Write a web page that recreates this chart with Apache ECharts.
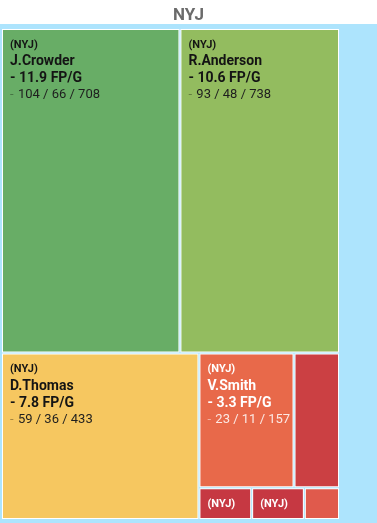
<!DOCTYPE html>
<html>
<head>
<meta charset="utf-8">
<script src="https://cdn.jsdelivr.net/npm/echarts@6/dist/echarts.min.js"></script>
<style>
html,body{margin:0;padding:0;background:#fff;}
#c{width:377px;height:523px;}
</style>
</head>
<body>
<div id="c"></div>
<script>
// Data
const team = 'NYJ';
const players = ['J.Crowder', 'R.Anderson', 'D.Thomas', 'V.Smith', '', '', '', ''];
const targets = [104, 93, 59, 23, 11, 3, 3, 2];
const receptions = [66, 48, 36, 11, null, null, null, null];
const yards = [708, 738, 433, 157, null, null, null, null];
const fpPerGame = [11.9, 10.6, 7.8, 3.3, null, null, null, null];
const tileColors = ['#68ad66', '#93bc5f', '#f6c760', '#e8694a', '#cb4043', '#c63842', '#c63842', '#e05a4c'];
const labelMode = ['full', 'full', 'full', 'full', 'none', 'team', 'team', 'none'];

const darkTiles = [false, false, false, true, true, true, true, true];

const data = players.map((p, i) => ({
  name: p,
  value: targets[i],
  idx: i,
  itemStyle: { color: tileColors[i] },
  label: { show: labelMode[i] !== 'none' }
}));

function rich(light) {
  const c = light ? '#ffffff' : '#141414';
  return {
    t: { fontSize: 11, fontWeight: 'bold', color: c, lineHeight: 16, fontFamily: 'Roboto' },
    n: { fontSize: 14, fontWeight: 'bold', color: c, lineHeight: 17, fontFamily: 'Roboto' },
    f: { fontSize: 14, fontWeight: 'bold', color: c, lineHeight: 17, fontFamily: 'Roboto' },
    d: { fontSize: 13, color: light ? 'rgba(255,255,255,0.5)' : 'rgba(0,0,0,0.35)', lineHeight: 16, fontFamily: 'Roboto', padding: [0, 1, 0, 0] },
    s: { fontSize: 13, color: light ? 'rgba(255,255,255,0.85)' : '#1e1e1e', lineHeight: 16, fontFamily: 'Roboto' }
  };
}

data.forEach((d, i) => {
  d.label.rich = rich(darkTiles[i]);
});

const chart = echarts.init(document.getElementById('c'), null, { renderer: 'canvas' });
chart.setOption({
  animation: false,
  title: {
    text: team,
    left: 'center',
    top: 2,
    textStyle: { fontSize: 17, fontWeight: 'bold', color: '#6b6b6b', fontFamily: 'Roboto' }
  },
  graphic: [{
    type: 'rect',
    shape: { x: 0, y: 24, width: 377, height: 499 },
    style: { fill: '#ade4fd' },
    z: -10,
    silent: true
  }],
  series: [{
    type: 'treemap',
    left: 2,
    top: 29,
    width: 337,
    height: 490,
    roam: false,
    nodeClick: false,
    breadcrumb: { show: false },
    levels: [
      { itemStyle: { borderColor: '#ade4fd', borderWidth: 0, gapWidth: 1 } },
      { itemStyle: { borderColor: '#ffffff', borderWidth: 1, gapWidth: 0 } }
    ],
    label: {
      show: true,
      position: 'insideTopLeft',
      distance: 0,
      padding: [7, 0, 0, 7],
      overflow: 'none',
      formatter: function (p) {
        const i = p.data.idx;
        if (labelMode[i] === 'team') return '{t|(' + team + ')}';
        return '{t|(' + team + ')}\n{n|' + players[i] + '}\n{f|- ' + fpPerGame[i].toFixed(1) + ' FP/G}\n{d|-} {s|' +
          targets[i] + ' / ' + receptions[i] + ' / ' + yards[i] + '}';
      }
    },
    upperLabel: { show: false },
    data: data
  }]
});
</script>
</body>
</html>
